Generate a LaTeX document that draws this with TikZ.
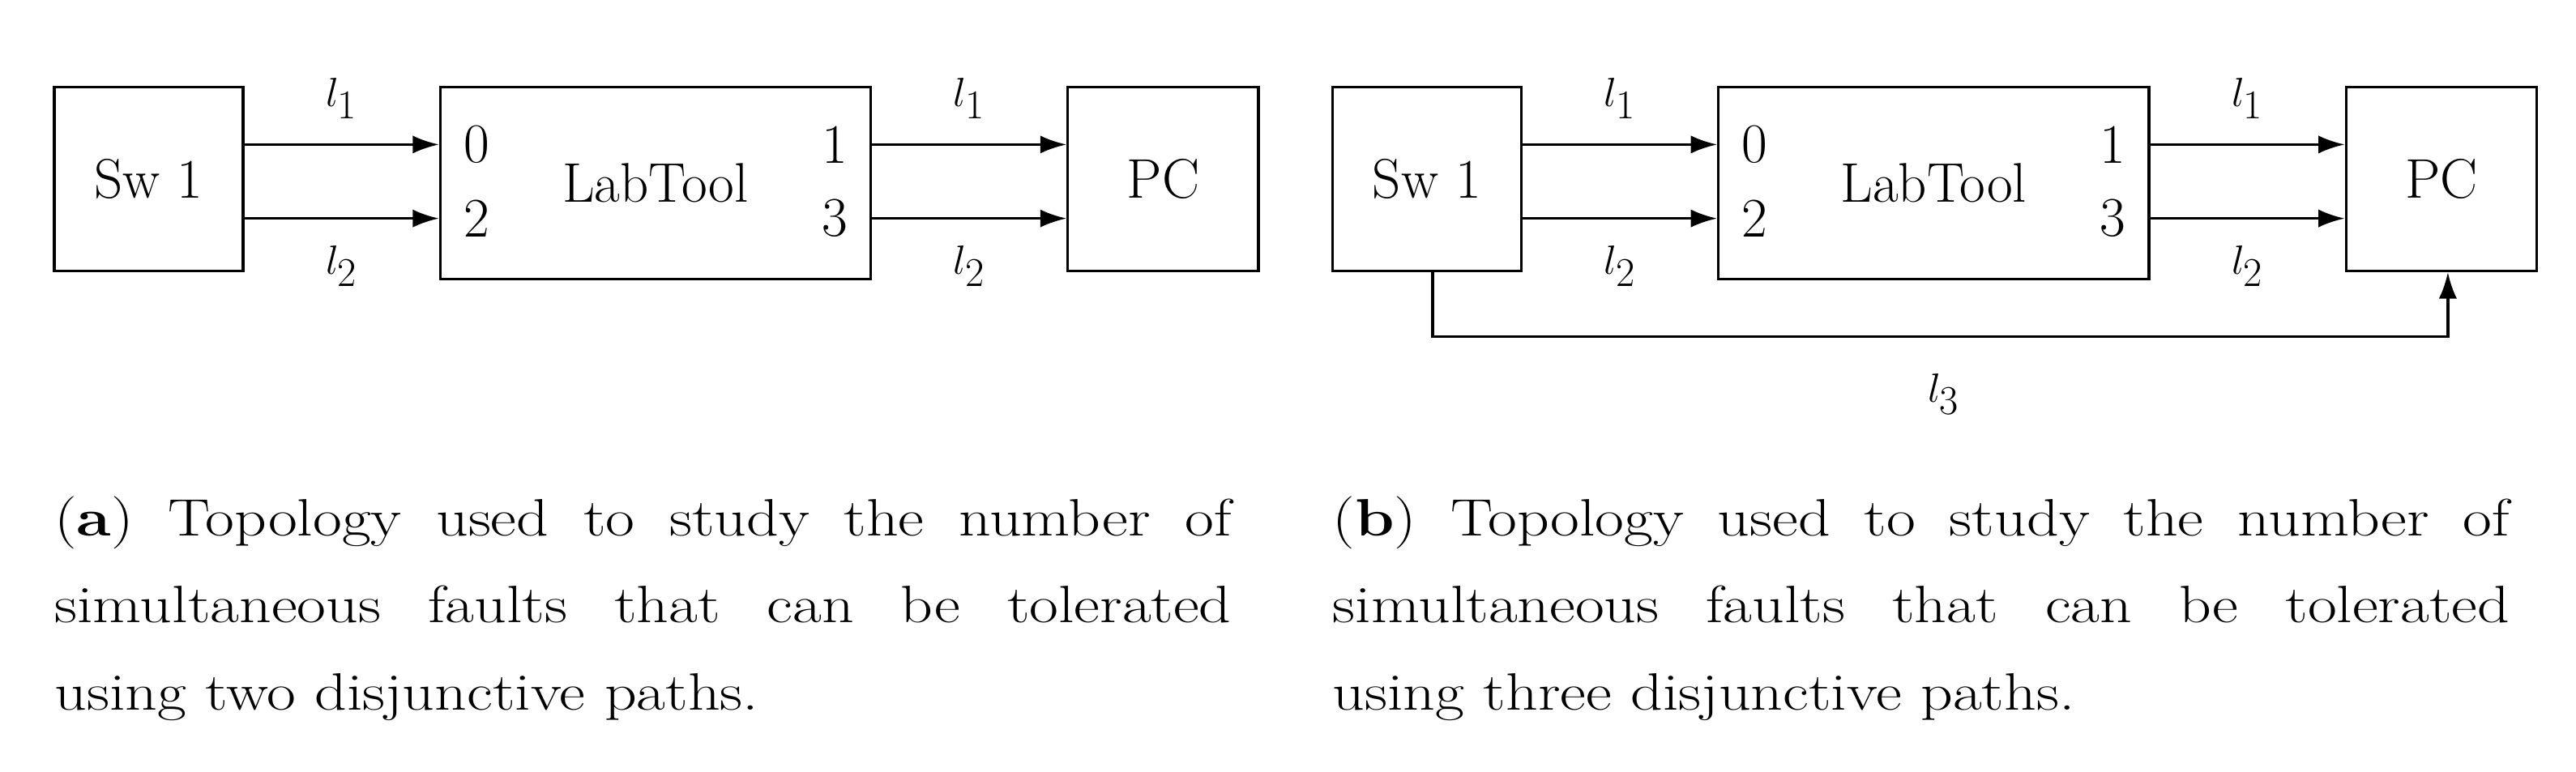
\documentclass[tikz,border=0pt]{standalone}
\usetikzlibrary{arrows.meta}
\newcommand{\capline}[1]{\scalebox{1.2}[1]{\makebox[597pt][s]{#1}}}
\begin{document}
\begin{tikzpicture}[x=1pt,y=-1pt,
  box/.style={draw,line width=1.6pt,inner sep=0pt},
  arr/.style={line width=1.6pt,-{Latex[length=16pt,width=11pt]}},
  lab/.style={font=\fontsize{34}{40}\selectfont},
  mlab/.style={font=\fontsize{39}{44}\selectfont},
  captxt/.style={font=\fontsize{32}{53}\selectfont,anchor=north west,inner sep=0pt}]
\useasboundingbox (0,0) rectangle (1568,470);
\foreach \p/\o in {a/0,b/778}{
 \begin{scope}[xshift=\o pt]
  \node[box,minimum width=115pt,minimum height=112pt,lab] (\p sw) at (90.5,109) {Sw 1};
  \node[box,minimum width=262pt,minimum height=117pt,lab] (\p lt) at (399,111.5) {LabTool};
  \node[box,minimum width=116pt,minimum height=112pt,lab] (\p pc) at (708,109) {PC};
  \node[lab] (\p p0) at (290,88) {0};
  \node[lab] (\p p2) at (290,133) {2};
  \node[lab] (\p p1) at (508,88) {1};
  \node[lab] (\p p3) at (508,133) {3};
  \draw[arr] (\p sw.east|-\p p0) -- (\p lt.west|-\p p0);
  \draw[arr] (\p sw.east|-\p p2) -- (\p lt.west|-\p p2);
  \draw[arr] (\p lt.east|-\p p1) -- (\p pc.west|-\p p1);
  \draw[arr] (\p lt.east|-\p p3) -- (\p pc.west|-\p p3);
  \node[mlab] (\p la) at (208,60) {$l_1$};
  \node[mlab] (\p lb) at (208,162) {$l_2$};
  \node[mlab] (\p lc) at (590,60) {$l_1$};
  \node[mlab] (\p ld) at (590,162) {$l_2$};
 \end{scope}}
\coordinate (c1) at (872,205);
\coordinate (c2) at (1490,205);
\draw[arr] (bsw.south-|c1) -- (c1) -- (c2) -- (bpc.south-|c2);
\node[mlab] (l3) at (1183,240) {$l_3$};
\node[captxt] (capa) at (33,302) {\parbox[t]{716pt}{\capline{(\textbf{a}) Topology used to study the number of}\\
\capline{simultaneous faults that can be tolerated}\\ \scalebox{1.2}[1]{using two disjunctive paths.}}};
\node[captxt] (capb) at (811,302) {\parbox[t]{716pt}{\capline{(\textbf{b}) Topology used to study the number of}\\
\capline{simultaneous faults that can be tolerated}\\ \scalebox{1.2}[1]{using three disjunctive paths.}}};
\end{tikzpicture}
\end{document}
